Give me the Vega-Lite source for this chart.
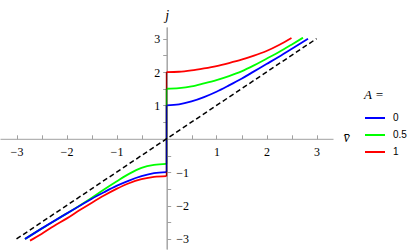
{
  "$schema": "https://vega.github.io/schema/vega-lite/v6.json",
  "width": 333,
  "height": 222,
  "autosize": "none",
  "padding": {"left": 0, "top": 27, "right": 82, "bottom": 2},
  "config": {
    "view": {"stroke": null},
    "axis": {
      "grid": false,
      "domainColor": "#a0a0a0",
      "tickColor": "#a0a0a0",
      "labelColor": "#000000",
      "labelFont": "Liberation Serif",
      "labelFontSize": 12,
      "labelOverlap": false,
      "labelFlush": false,
      "titleFont": "Liberation Serif",
      "titleFontStyle": "italic",
      "titleFontWeight": "normal",
      "titleFontSize": 14,
      "titleColor": "#000000"
    }
  },
  "datasets": {
    "curves": [
      {"s": "1", "p": "neg", "v": -2.73, "j": -3.05},
      {"s": "1", "p": "neg", "v": -2.5, "j": -2.85},
      {"s": "1", "p": "neg", "v": -2.25, "j": -2.61},
      {"s": "1", "p": "neg", "v": -2.0, "j": -2.39},
      {"s": "1", "p": "neg", "v": -1.75, "j": -2.15},
      {"s": "1", "p": "neg", "v": -1.5, "j": -1.92},
      {"s": "1", "p": "neg", "v": -1.25, "j": -1.7},
      {"s": "1", "p": "neg", "v": -1.0, "j": -1.5},
      {"s": "1", "p": "neg", "v": -0.75, "j": -1.33},
      {"s": "1", "p": "neg", "v": -0.5, "j": -1.21},
      {"s": "1", "p": "neg", "v": -0.25, "j": -1.14},
      {"s": "1", "p": "neg", "v": 0, "j": -1.12},
      {"s": "1", "p": "pos", "v": 0, "j": 2.0},
      {"s": "1", "p": "pos", "v": 0.25, "j": 2.01},
      {"s": "1", "p": "pos", "v": 0.5, "j": 2.05},
      {"s": "1", "p": "pos", "v": 0.75, "j": 2.11},
      {"s": "1", "p": "pos", "v": 1.0, "j": 2.18},
      {"s": "1", "p": "pos", "v": 1.25, "j": 2.27},
      {"s": "1", "p": "pos", "v": 1.5, "j": 2.37},
      {"s": "1", "p": "pos", "v": 1.75, "j": 2.49},
      {"s": "1", "p": "pos", "v": 2.0, "j": 2.63},
      {"s": "1", "p": "pos", "v": 2.25, "j": 2.81},
      {"s": "1", "p": "pos", "v": 2.5, "j": 3.02},
      {"s": "0.5", "p": "neg", "v": -2.83, "j": -3.0},
      {"s": "0.5", "p": "neg", "v": -2.5, "j": -2.69},
      {"s": "0.5", "p": "neg", "v": -2.0, "j": -2.24},
      {"s": "0.5", "p": "neg", "v": -1.75, "j": -2.01},
      {"s": "0.5", "p": "neg", "v": -1.5, "j": -1.77},
      {"s": "0.5", "p": "neg", "v": -1.25, "j": -1.52},
      {"s": "0.5", "p": "neg", "v": -1.0, "j": -1.28},
      {"s": "0.5", "p": "neg", "v": -0.75, "j": -1.05},
      {"s": "0.5", "p": "neg", "v": -0.5, "j": -0.87},
      {"s": "0.5", "p": "neg", "v": -0.25, "j": -0.78},
      {"s": "0.5", "p": "neg", "v": 0, "j": -0.75},
      {"s": "0.5", "p": "pos", "v": 0, "j": 1.5},
      {"s": "0.5", "p": "pos", "v": 0.25, "j": 1.52},
      {"s": "0.5", "p": "pos", "v": 0.5, "j": 1.57},
      {"s": "0.5", "p": "pos", "v": 0.75, "j": 1.66},
      {"s": "0.5", "p": "pos", "v": 1.0, "j": 1.76},
      {"s": "0.5", "p": "pos", "v": 1.25, "j": 1.88},
      {"s": "0.5", "p": "pos", "v": 1.5, "j": 2.02},
      {"s": "0.5", "p": "pos", "v": 1.75, "j": 2.2},
      {"s": "0.5", "p": "pos", "v": 2.0, "j": 2.4},
      {"s": "0.5", "p": "pos", "v": 2.25, "j": 2.6},
      {"s": "0.5", "p": "pos", "v": 2.5, "j": 2.82},
      {"s": "0.5", "p": "pos", "v": 2.73, "j": 3.03},
      {"s": "0", "p": "neg", "v": -2.83, "j": -3.0},
      {"s": "0", "p": "neg", "v": -2.5, "j": -2.69},
      {"s": "0", "p": "neg", "v": -2.0, "j": -2.24},
      {"s": "0", "p": "neg", "v": -1.75, "j": -2.02},
      {"s": "0", "p": "neg", "v": -1.5, "j": -1.8},
      {"s": "0", "p": "neg", "v": -1.25, "j": -1.6},
      {"s": "0", "p": "neg", "v": -1.0, "j": -1.41},
      {"s": "0", "p": "neg", "v": -0.75, "j": -1.25},
      {"s": "0", "p": "neg", "v": -0.5, "j": -1.12},
      {"s": "0", "p": "neg", "v": -0.25, "j": -1.03},
      {"s": "0", "p": "neg", "v": 0, "j": -1.0},
      {"s": "0", "p": "pos", "v": 0, "j": 1.0},
      {"s": "0", "p": "pos", "v": 0.25, "j": 1.03},
      {"s": "0", "p": "pos", "v": 0.5, "j": 1.12},
      {"s": "0", "p": "pos", "v": 0.75, "j": 1.25},
      {"s": "0", "p": "pos", "v": 1.0, "j": 1.41},
      {"s": "0", "p": "pos", "v": 1.25, "j": 1.6},
      {"s": "0", "p": "pos", "v": 1.5, "j": 1.8},
      {"s": "0", "p": "pos", "v": 1.75, "j": 2.02},
      {"s": "0", "p": "pos", "v": 2.0, "j": 2.24},
      {"s": "0", "p": "pos", "v": 2.25, "j": 2.46},
      {"s": "0", "p": "pos", "v": 2.5, "j": 2.69},
      {"s": "0", "p": "pos", "v": 2.83, "j": 3.0}
    ],
    "jumps": [
      {"s": "1", "v": 0, "lo": -1.12, "hi": 2.0},
      {"s": "0.5", "v": 0, "lo": -0.75, "hi": 1.5},
      {"s": "0", "v": 0, "lo": -1.0, "hi": 1.0}
    ],
    "diag": [
      {"v": -3, "j": -3},
      {"v": 3, "j": 3}
    ]
  },
  "encoding": {
    "x": {
      "field": "v", "type": "quantitative",
      "scale": {"domain": [-3.33, 3.33], "nice": false, "zero": false},
      "axis": {
        "orient": "bottom", "offset": -110.2,
        "values": [-3, -2.5, -2, -1.5, -1, -0.5, 0.5, 1, 1.5, 2, 2.5, 3],
        "labelExpr": "datum.value % 1 === 0 ? (datum.value < 0 ? '−' + abs(datum.value) : '' + datum.value) : ''",
        "tickSize": -4, "labelPadding": 12,
        "title": "v̄", "titleX": 346, "titleY": -1, "titleAlign": "center", "titleBaseline": "middle", "titleAngle": 0
      }
    }
  },
  "layer": [
    {
      "data": {"name": "curves"},
      "mark": {"type": "line", "strokeWidth": 1.8, "interpolate": "monotone"},
      "encoding": {
        "y": {
          "field": "j", "type": "quantitative",
          "scale": {"domain": [-3.3, 3.35], "nice": false, "zero": false},
          "axis": {
            "orient": "left", "offset": -166.7,
            "values": [0.5, 1, 1.5, 2, 2.5, 3],
            "labelExpr": "datum.value % 1 === 0 ? '' + datum.value : ''",
            "tickSize": 4, "labelPadding": 3,
            "title": "j", "titleX": 0, "titleY": -12, "titleAlign": "center", "titleBaseline": "middle", "titleAngle": 0
          }
        },
        "color": {
          "field": "s", "type": "nominal",
          "scale": {"domain": ["0", "0.5", "1"], "range": ["#0000ff", "#00ff00", "#ff0000"]},
          "legend": {
            "orient": "none", "legendX": 364, "legendY": 62,
            "title": "A =", "titleFont": "Liberation Serif", "titleFontStyle": "italic", "titleFontWeight": "normal",
            "titleFontSize": 13, "titleColor": "#000000", "titlePadding": 5,
            "labelFont": "Liberation Sans", "labelFontSize": 10, "labelColor": "#000000",
            "symbolType": "stroke", "symbolSize": 400, "symbolStrokeWidth": 2, "labelOffset": 7, "rowPadding": 1, "padding": 0
          }
        },
        "detail": {"field": "p", "type": "nominal"}
      }
    },
    {
      "data": {"name": "jumps"},
      "mark": {"type": "rule", "strokeWidth": 1.4},
      "encoding": {
        "y": {
          "field": "lo", "type": "quantitative",
          "axis": {
            "orient": "right", "offset": -166.3,
            "values": [-0.5, -1, -1.5, -2, -2.5, -3],
            "labelExpr": "datum.value % 1 === 0 ? '−' + abs(datum.value) : ''",
            "tickSize": 4, "labelPadding": 5, "title": null
          }
        },
        "y2": {"field": "hi"},
        "color": {
          "field": "s", "type": "nominal",
          "scale": {"domain": ["1", "0.5", "0"], "range": ["#990000", "#009900", "#000099"]},
          "legend": null
        }
      }
    },
    {
      "data": {"name": "diag"},
      "mark": {"type": "line", "color": "#000000", "strokeWidth": 1.5, "strokeDash": [5, 3]},
      "encoding": {
        "y": {"field": "j", "type": "quantitative", "axis": null}
      }
    }
  ],
  "resolve": {"scale": {"color": "independent"}, "axis": {"y": "independent"}}
}
